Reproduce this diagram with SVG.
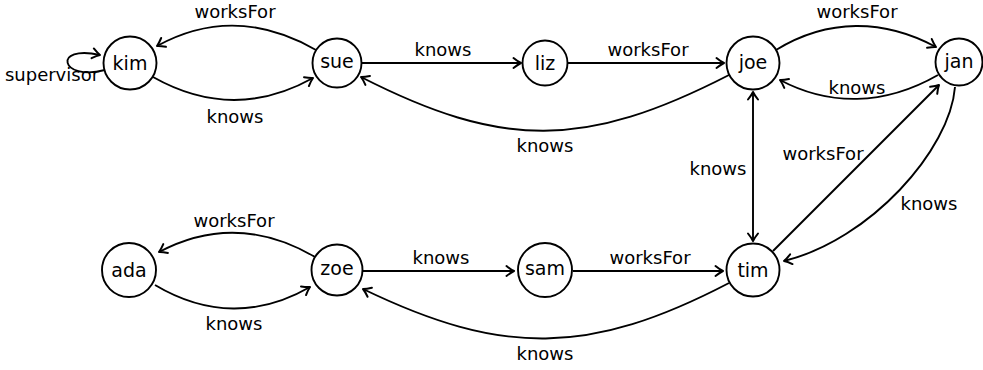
<svg xmlns="http://www.w3.org/2000/svg" width="983" height="370" viewBox="0 0 983 370">
<style>
.node circle{fill:#fff;stroke:#000;stroke-width:1.9}
text{font-family:"DejaVu Sans","Liberation Sans",sans-serif;font-size:18px;fill:#000;text-anchor:middle}
.node text{font-size:19px}
#edges path{fill:none;stroke:#000;stroke-width:1.9;marker-end:url(#arr)}
#edges path.both{marker-start:url(#arr)}
</style>
<defs>
<marker id="arr" markerUnits="userSpaceOnUse" viewBox="-10 -7 12 14" refX="0" refY="0" markerWidth="12" markerHeight="14" orient="auto-start-reverse" overflow="visible">
<path d="M -7.5 -5 Q -3 -1.4 0 0 Q -3 1.4 -7.5 5" fill="none" stroke="#000" stroke-width="2" stroke-linecap="round" stroke-linejoin="round"/>
</marker>
</defs>
<g id="edges">
<path d="M 316 50 C 262 19 208 18 157 46"/>
<path d="M 153 77 C 208 108 261 107 313 78"/>
<path d="M 105 70 C 60 82 52 44 100 55"/>
<path d="M 362 63 L 521 63"/>
<path d="M 568 63 L 724 63"/>
<path d="M 729 75 C 585 149 502 149 361 77"/>
<path d="M 776 50 C 828 18 884 19 936 47"/>
<path d="M 938 75 C 884 106 829 106 780 80"/>
<path class="both" d="M 753 92 L 753 241"/>
<path d="M 773 251 L 939 85"/>
<path d="M 955 87 C 950 150 870 240 784 261"/>
<path d="M 315 257 C 262 226 210 225 159 252"/>
<path d="M 155 285 C 207 316 260 316 310 287"/>
<path d="M 363 271 L 514 271"/>
<path d="M 573 271 L 723 271"/>
<path d="M 729 283 C 589 356 502 356 363 289"/>
</g>
<g id="edge-labels">
<text x="235" y="18">worksFor</text>
<text x="235" y="123">knows</text>
<text x="52" y="81">supervisor</text>
<text x="443" y="56">knows</text>
<text x="648" y="56">worksFor</text>
<text x="545" y="152">knows</text>
<text x="857" y="18">worksFor</text>
<text x="857" y="94">knows</text>
<text x="718" y="175">knows</text>
<text x="823" y="160">worksFor</text>
<text x="929" y="210">knows</text>
<text x="234" y="227">worksFor</text>
<text x="234" y="330">knows</text>
<text x="441" y="264">knows</text>
<text x="650" y="264">worksFor</text>
<text x="545" y="360">knows</text>
</g>
<g id="kim" class="node"><circle cx="130" cy="63" r="26.5"/><text x="130" y="69.5">kim</text></g>
<g id="sue" class="node"><circle cx="337" cy="63" r="24.5"/><text x="337" y="68">sue</text></g>
<g id="liz" class="node"><circle cx="545" cy="63" r="22.5"/><text x="545" y="69.5">liz</text></g>
<g id="joe" class="node"><circle cx="753" cy="63" r="26.5"/><text x="753" y="68.5">joe</text></g>
<g id="jan" class="node"><circle cx="959" cy="62" r="23.5"/><text x="959" y="67.5">jan</text></g>
<g id="ada" class="node"><circle cx="129" cy="270" r="27"/><text x="129" y="276.5">ada</text></g>
<g id="zoe" class="node"><circle cx="337" cy="270" r="25.5"/><text x="337" y="275">zoe</text></g>
<g id="sam" class="node"><circle cx="545" cy="270" r="27"/><text x="545" y="275">sam</text></g>
<g id="tim" class="node"><circle cx="753" cy="270" r="26.5"/><text x="753" y="276.5">tim</text></g>
</svg>
